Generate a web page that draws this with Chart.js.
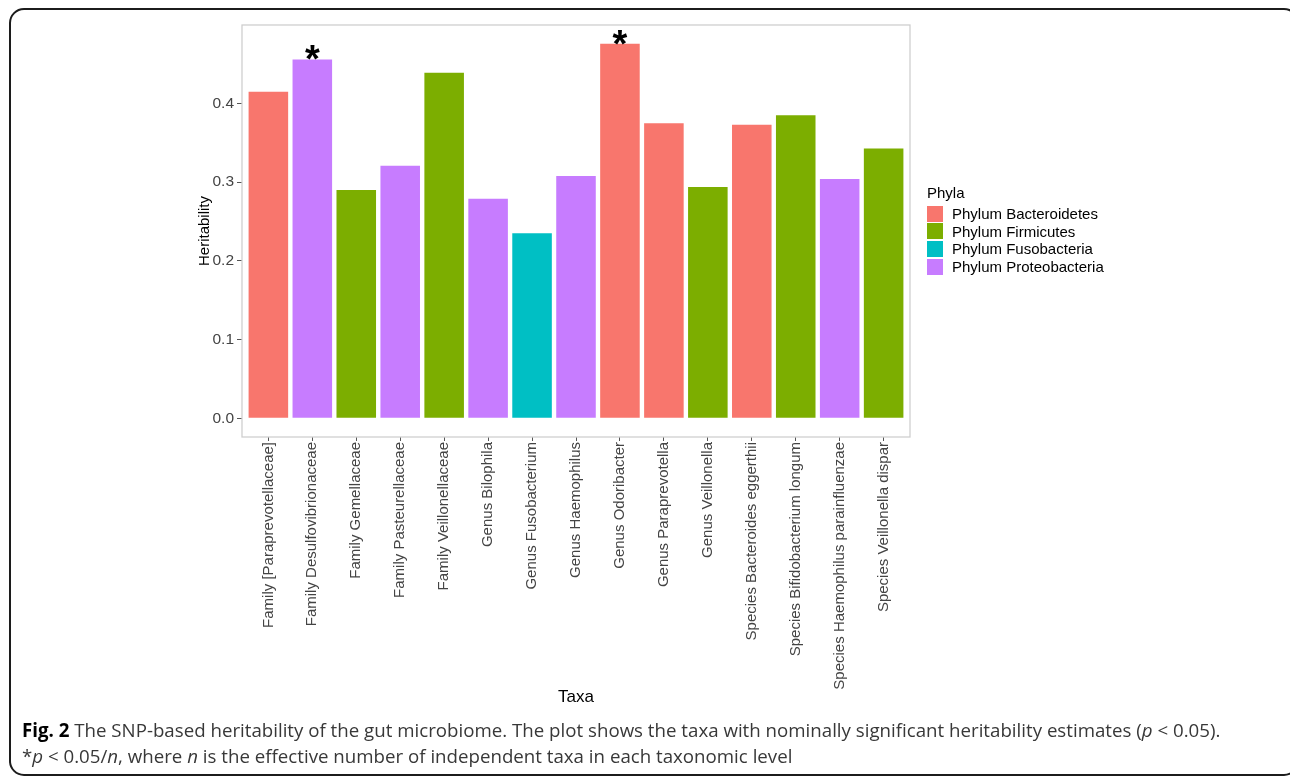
<!DOCTYPE html>
<html>
<head>
<meta charset="utf-8">
<script src="https://cdn.jsdelivr.net/npm/chart.js@4.4.1/dist/chart.umd.min.js"></script>
<style>
  html, body { margin: 0; padding: 0; background: #fff; width: 1290px; height: 778px; overflow: hidden; }
  #frame { position: absolute; left: 9px; top: 8px; width: 1290px; height: 768px; box-sizing: border-box;
           border: 2px solid #1c1c1c; border-radius: 15px; }
  #plot { position: absolute; left: 0; top: 0; }
  #legend { position: absolute; left: 927px; top: 183px; font-family: "Liberation Sans", Arial, sans-serif;
            font-size: 15px; color: #000; }
  #legend .title { height: 22px; line-height: 20px; }
  #legend .row { display: flex; align-items: center; height: 17.6px; }
  #legend .key { width: 16px; height: 16px; margin-right: 9px; }
  #caption { position: absolute; left: 22px; top: 717px; font-family: "Open Sans", sans-serif; font-size: 18.7px;
             color: #383838; line-height: 26px; white-space: nowrap; }
  #caption b { color: #000; }
</style>
</head>
<body>
<div id="frame"></div>
<canvas id="plot" width="1290" height="778"></canvas>
<div id="legend"></div>
<div id="caption">
  <div><b>Fig. 2</b> The SNP-based heritability of the gut microbiome. The plot shows the taxa with nominally significant heritability estimates (<i>p</i> &lt; 0.05).</div>
  <div>*<i>p</i> &lt; 0.05/<i>n</i>, where <i>n</i> is the effective number of independent taxa in each taxonomic level</div>
</div>
<script>
// Taxa and their SNP-based heritability estimates
const taxa = [
  'Family [Paraprevotellaceae]', 'Family Desulfovibrionaceae', 'Family Gemellaceae',
  'Family Pasteurellaceae', 'Family Veillonellaceae', 'Genus Bilophila', 'Genus Fusobacterium',
  'Genus Haemophilus', 'Genus Odoribacter', 'Genus Paraprevotella', 'Genus Veillonella',
  'Species Bacteroides eggerthii', 'Species Bifidobacterium longum',
  'Species Haemophilus parainfluenzae', 'Species Veillonella dispar'
];
const heritability = [0.415, 0.456, 0.290, 0.321, 0.439, 0.279, 0.235, 0.308, 0.476, 0.375, 0.294, 0.373, 0.385, 0.304, 0.343];
// phylum index of each taxon (into phylaNames)
const phylumOf = [0, 3, 1, 3, 1, 3, 2, 3, 0, 0, 1, 0, 1, 3, 1];
// taxa passing p < 0.05/n
const significant = [false, true, false, false, false, false, false, false, true, false, false, false, false, false, false];

const phylaNames = ['Phylum Bacteroidetes', 'Phylum Firmicutes', 'Phylum Fusobacteria', 'Phylum Proteobacteria'];
const phylaColors = ['#F8766D', '#7CAE00', '#00BFC4', '#C77CFF'];
const yTicks = [0.0, 0.1, 0.2, 0.3, 0.4];

const FONT = '"Liberation Sans", Arial, sans-serif';

// 5% padding around the data range on the value axis
const yMax = Math.max(...heritability);
const yPad = yMax * 0.05;

const panelBorder = {
  id: 'panelBorder',
  afterDraw(chart) {
    const { ctx, chartArea: a } = chart;
    ctx.save();
    ctx.strokeStyle = '#cfcfcf';
    ctx.lineWidth = 1.3;
    ctx.strokeRect(a.left, a.top, a.right - a.left, a.bottom - a.top);
    ctx.restore();
  }
};

const starMarks = {
  id: 'starMarks',
  afterDatasetsDraw(chart) {
    const { ctx } = chart;
    const meta = chart.getDatasetMeta(0);
    ctx.save();
    ctx.fillStyle = '#000';
    ctx.font = 'bold 38px ' + FONT;
    ctx.textAlign = 'center';
    ctx.textBaseline = 'alphabetic';
    significant.forEach((s, i) => {
      if (!s) return;
      const bar = meta.data[i];
      ctx.fillText('*', bar.x, bar.y + 13);
    });
    ctx.restore();
  }
};

new Chart(document.getElementById('plot'), {
  type: 'bar',
  data: {
    datasets: [{
      data: heritability.map((v, i) => ({ x: i, y: v })),
      backgroundColor: phylumOf.map(p => phylaColors[p]),
      borderWidth: 0,
      barPercentage: 0.9,
      categoryPercentage: 1.0
    }]
  },
  options: {
    responsive: false,
    animation: false,
    devicePixelRatio: 1,
    layout: { padding: { left: 0, top: 25, right: 380, bottom: 0 } },
    plugins: { legend: { display: false }, tooltip: { enabled: false } },
    scales: {
      x: {
        type: 'linear',
        offset: false,
        min: -0.6,
        max: taxa.length - 1 + 0.6,
        afterBuildTicks: s => { s.ticks = taxa.map((_, i) => ({ value: i })); },
        afterFit: s => { s.height = 778 - 437; },
        ticks: {
          autoSkip: false, minRotation: 90, maxRotation: 90, padding: 1,
          callback: v => taxa[v],
          font: { family: FONT, size: 15 }, color: '#444'
        },
        grid: { offset: false, drawOnChartArea: false, drawTicks: true, tickLength: 4, color: '#555', tickWidth: 1 },
        border: { display: false },
        title: { display: true, text: 'Taxa', color: '#000', font: { family: FONT, size: 17 }, padding: { top: 0, bottom: 70 } }
      },
      y: {
        min: -yPad,
        max: yMax + yPad,
        afterBuildTicks: s => { s.ticks = yTicks.map(v => ({ value: v })); },
        afterFit: s => { s.width = 242; },
        ticks: {
          padding: 3, callback: v => v.toFixed(1),
          font: { family: FONT, size: 15.5 }, color: '#444'
        },
        grid: { drawOnChartArea: false, drawTicks: true, tickLength: 5, color: '#555', tickWidth: 1 },
        border: { display: false },
        title: { display: true, text: 'Heritability', color: '#000', font: { family: FONT, size: 15 }, padding: { top: 196, bottom: 0 } }
      }
    }
  },
  plugins: [panelBorder, starMarks]
});

// legend for phyla
const legend = document.getElementById('legend');
legend.innerHTML = '<div class="title">Phyla</div>' + phylaNames.map((n, i) =>
  `<div class="row"><span class="key" style="background:${phylaColors[i]}"></span><span>${n}</span></div>`).join('');
</script>
</body>
</html>
